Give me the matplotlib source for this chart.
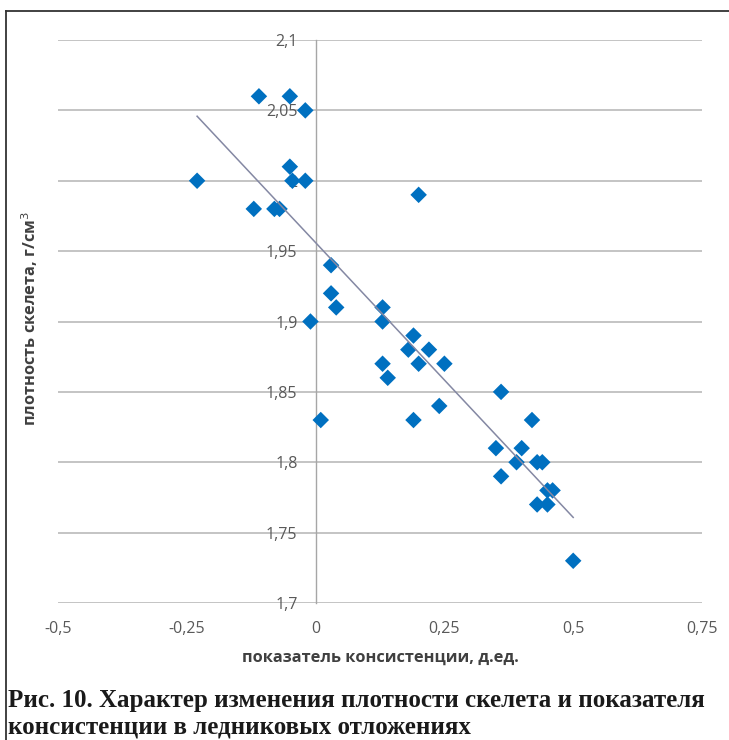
import numpy as np
import matplotlib
matplotlib.use("Agg")
import matplotlib.pyplot as plt
from matplotlib.lines import Line2D

# data: consistency index (x) vs skeleton density (y)
consistency = [-0.11, -0.05, -0.02, -0.23, -0.05, -0.045, -0.02, -0.12, -0.08, -0.07,
               0.20, 0.03, 0.03, 0.04, -0.01, 0.13, 0.13, 0.19, 0.18, 0.22,
               0.20, 0.25, 0.13, 0.14, 0.01, 0.19, 0.24, 0.36, 0.42, 0.35,
               0.40, 0.39, 0.43, 0.44, 0.36, 0.45, 0.46, 0.43, 0.45, 0.50]
density = [2.06, 2.06, 2.05, 2.00, 2.01, 2.00, 2.00, 1.98, 1.98, 1.98,
           1.99, 1.94, 1.92, 1.91, 1.90, 1.91, 1.90, 1.89, 1.88, 1.88,
           1.87, 1.87, 1.87, 1.86, 1.83, 1.83, 1.84, 1.85, 1.83, 1.81,
           1.81, 1.80, 1.80, 1.80, 1.79, 1.78, 1.78, 1.77, 1.77, 1.73]

x_ticks = [-0.5, -0.25, 0, 0.25, 0.5, 0.75]
x_labels = ["-0,5", "-0,25", "0", "0,25", "0,5", "0,75"]
y_ticks = [1.7, 1.75, 1.8, 1.85, 1.9, 1.95, 2.0, 2.05, 2.1]
y_labels = ["1,7", "1,75", "1,8", "1,85", "1,9", "1,95", "2", "2,05", "2,1"]

xlabel = "показатель консистенции, д.ед."
ylabel = "плотность скелета, г/см$^3$"
caption1 = "Рис. 10. Характер изменения плотности скелета и показателя"
caption2 = "консистенции в ледниковых отложениях"

W, H = 729, 740
fig = plt.figure(figsize=(W / 100, H / 100), dpi=100)
ax = fig.add_axes([58 / W, 1 - 603 / H, (702 - 58) / W, (603 - 40) / H])

ax.set_xlim(-0.5, 0.75)
ax.set_ylim(1.7, 2.1)

grid_c = "#bfbfbf"
for yv in y_ticks:
    ax.axhline(yv, color=grid_c, lw=1.3, zorder=1)

for s in ["top", "right", "bottom"]:
    ax.spines[s].set_visible(False)
ax.spines["left"].set_position(("data", 0))
ax.spines["left"].set_color("#a6a6a6")
ax.spines["left"].set_linewidth(1.0)
ax.spines["left"].set_zorder(1)

tick_font = dict(family="Open Sans", size=11.5, color="#595959")
ax.set_xticks(x_ticks)
ax.set_xticklabels(x_labels, **tick_font)
ax.set_yticks(y_ticks)
ax.set_yticklabels(y_labels, **tick_font)
ax.tick_params(axis="both", length=0)
ax.tick_params(axis="y", pad=13)
ax.tick_params(axis="x", pad=13)

ax.scatter(consistency, density, marker="D", s=8.4 ** 2, color="#0070C0",
           edgecolors="none", zorder=3)

# linear trend line
k, b = np.polyfit(consistency, density, 1)
xl = np.array([min(consistency), max(consistency)])
ax.plot(xl, k * xl + b, color="#8488a3", lw=1.1, zorder=4)

fig.text(380 / W, 1 - 658 / H, xlabel, ha="center", va="center",
         family="Open Sans", weight="bold", size=11.8, color="#404040")
fig.text(30 / W, 1 - 318 / H, ylabel, ha="center", va="center", rotation=90,
         family="Open Sans", weight="bold", size=11.8, color="#404040")

fig.text(8 / W, 1 - 700 / H, caption1, ha="left", va="center",
         family="Liberation Serif", weight="bold", size=18, color="#1a1a1a")
fig.text(8 / W, 1 - 727 / H, caption2, ha="left", va="center",
         family="Liberation Serif", weight="bold", size=18, color="#1a1a1a")

# frame (top and left edges visible)
fig.add_artist(Line2D([5.5 / W, 1.0], [1 - 11 / H, 1 - 11 / H], transform=fig.transFigure,
                      color="#333333", lw=1.3))
fig.add_artist(Line2D([5.5 / W, 5.5 / W], [1 - 11 / H, 0.0], transform=fig.transFigure,
                      color="#333333", lw=1.3))

fig.savefig("out.png", dpi=100)
